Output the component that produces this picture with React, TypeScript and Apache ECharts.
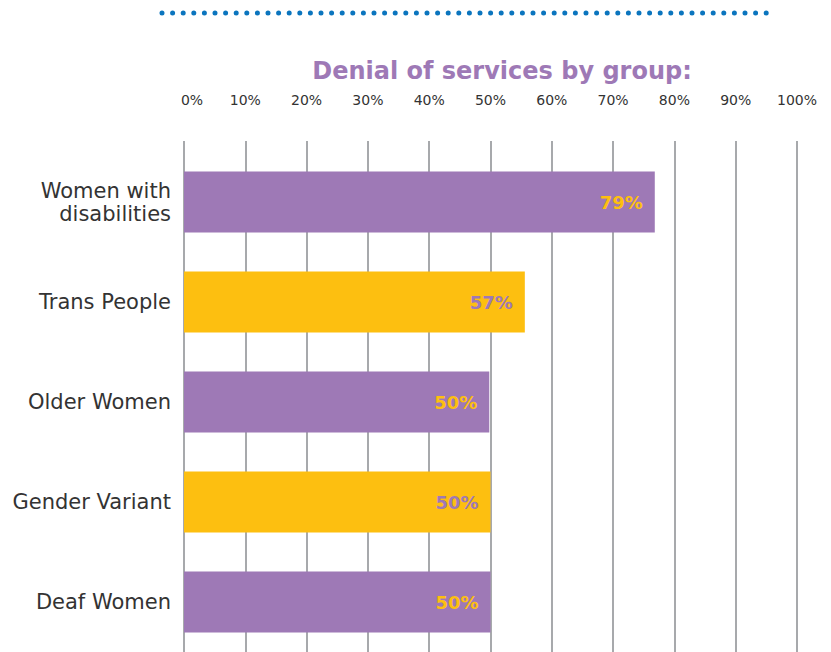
import React, { useEffect, useRef } from "react";
import * as echarts from "echarts";

const categories = ["Women with\ndisabilities", "Trans People", "Older Women", "Gender Variant", "Deaf Women"];
const barValues = [76.8, 55.6, 49.8, 50, 50];
const valueLabels = ["79%", "57%", "50%", "50%", "50%"];

const PURPLE = "#9E79B6";
const YELLOW = "#FDBF10";
const FONT = "'DejaVu Sans', sans-serif";

export default function App() {
  const ref = useRef<HTMLDivElement>(null);
  useEffect(() => {
    if (!ref.current) return;
    const chart = echarts.init(ref.current, undefined, { renderer: "svg" });
    const data = barValues.map((v, i) => {
      const purple = i % 2 === 0;
      return {
        value: v,
        itemStyle: { color: purple ? PURPLE : YELLOW },
        label: { color: purple ? YELLOW : PURPLE, formatter: valueLabels[i] },
      };
    });
    chart.setOption({
      animation: false,
      backgroundColor: "#ffffff",
      title: {
        text: "Denial of services by group:",
        left: 497,
        textAlign: "center",
        top: 54,
        textStyle: { color: PURPLE, fontSize: 24, fontWeight: "bold", fontFamily: FONT },
      },
      graphic: [
        {
          type: "line",
          shape: { x1: 162, y1: 13, x2: 773, y2: 13 },
          style: { stroke: "#0B75BE", lineWidth: 5, lineCap: "round", lineDash: [0, 10.6] },
        },
      ],
      grid: [
        { left: 184, right: 34, top: 141, bottom: 0 },
        { left: 184, right: 34, top: 152, bottom: 0 },
      ],
      xAxis: [
        {
          gridIndex: 0,
          type: "value",
          position: "top",
          min: 0,
          max: 100,
          interval: 10,
          axisLine: { show: false },
          axisTick: { show: false },
          splitLine: { show: true, lineStyle: { color: "#A7A9AC", width: 2 } },
          axisLabel: {
            margin: 34,
            fontSize: 14,
            color: "#333333",
            fontFamily: FONT,
            formatter: (v: number) => (v === 0 ? "{z|0%}" : v + "%"),
            rich: { z: { padding: [0, 0, 0, 16], fontSize: 14, color: "#333333", fontFamily: FONT } },
          },
        },
        {
          gridIndex: 1,
          type: "value",
          min: 0,
          max: 100,
          show: false,
        },
      ],
      yAxis: [
        { gridIndex: 0, type: "value", show: false },
        {
          gridIndex: 1,
          type: "category",
          inverse: true,
          data: categories,
          axisLine: { show: false },
          axisTick: { show: false },
          axisLabel: {
            margin: 13,
            fontSize: 21,
            color: "#333333",
            fontFamily: FONT,
            lineHeight: 23,
            align: "right",
          },
        },
      ],
      series: [
        {
          type: "bar",
          xAxisIndex: 1,
          yAxisIndex: 1,
          barWidth: 61,
          data,
          label: {
            show: true,
            position: "insideRight",
            distance: 12,
            fontSize: 18,
            fontWeight: "bold",
            fontFamily: FONT,
          },
        },
      ],
    });
    return () => chart.dispose();
  }, []);
  return <div ref={ref} style={{ position: "absolute", left: 0, top: 0, width: 831, height: 652 }} />;
}
